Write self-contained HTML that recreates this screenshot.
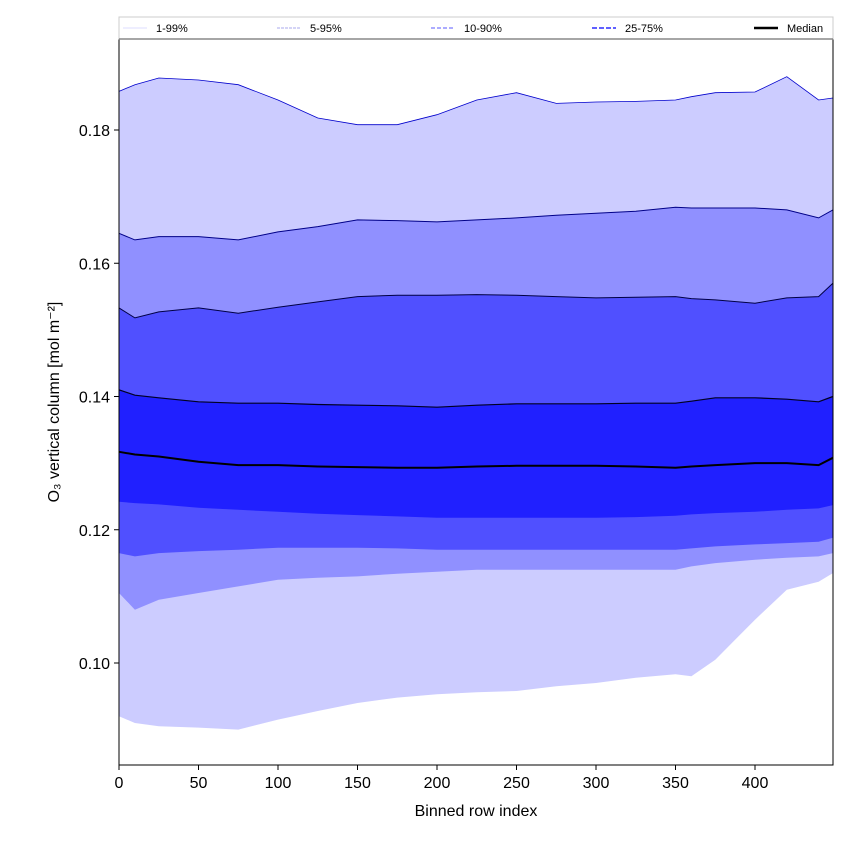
<!DOCTYPE html>
<html><head><meta charset="utf-8"><style>
body{margin:0;background:#fff;font-family:"Liberation Sans","DejaVu Sans",sans-serif}
</style></head><body>
<svg id="chart" width="850" height="850" xmlns="http://www.w3.org/2000/svg" font-family="Liberation Sans, DejaVu Sans, sans-serif"></svg>
<script>
const xs=[0,10,25,50,75,100,125,150,175,200,225,250,275,300,325,350,360,375,400,420,440,449];
const p99=[0.1858,0.1868,0.1878,0.1875,0.1868,0.1845,0.1818,0.1808,0.1808,0.1823,0.1845,0.1856,0.1840,0.1842,0.1843,0.1845,0.1850,0.1856,0.1857,0.1880,0.1845,0.1848];
const p95=[0.1645,0.1635,0.1640,0.1640,0.1635,0.1647,0.1655,0.1665,0.1664,0.1662,0.1665,0.1668,0.1672,0.1675,0.1678,0.1684,0.1683,0.1683,0.1683,0.1680,0.1668,0.1680];
const p90=[0.1533,0.1518,0.1527,0.1533,0.1525,0.1534,0.1542,0.1550,0.1552,0.1552,0.1553,0.1552,0.1550,0.1548,0.1549,0.1550,0.1547,0.1545,0.1540,0.1548,0.1550,0.1570];
const p75=[0.1410,0.1402,0.1398,0.1392,0.1390,0.1390,0.1388,0.1387,0.1386,0.1384,0.1387,0.1389,0.1389,0.1389,0.1390,0.1390,0.1393,0.1398,0.1398,0.1396,0.1392,0.1400];
const med=[0.1317,0.1313,0.1310,0.1302,0.1297,0.1297,0.1295,0.1294,0.1293,0.1293,0.1295,0.1296,0.1296,0.1296,0.1295,0.1293,0.1295,0.1297,0.1300,0.1300,0.1297,0.1308];
const p25=[0.1242,0.1240,0.1238,0.1233,0.1230,0.1227,0.1224,0.1222,0.1220,0.1218,0.1218,0.1218,0.1218,0.1218,0.1219,0.1221,0.1223,0.1225,0.1227,0.1230,0.1232,0.1237];
const p10=[0.1165,0.1160,0.1165,0.1168,0.1170,0.1173,0.1173,0.1173,0.1172,0.1170,0.1170,0.1170,0.1170,0.1170,0.1170,0.1170,0.1172,0.1175,0.1178,0.1180,0.1182,0.1188];
const p5=[0.1105,0.1080,0.1095,0.1105,0.1115,0.1125,0.1128,0.1130,0.1134,0.1137,0.1140,0.1140,0.1140,0.1140,0.1140,0.1140,0.1145,0.1150,0.1155,0.1158,0.1160,0.1165];
const p1=[0.0920,0.0910,0.0905,0.0903,0.0900,0.0915,0.0928,0.0940,0.0948,0.0953,0.0956,0.0958,0.0965,0.0970,0.0978,0.0983,0.0980,0.1005,0.1065,0.1110,0.1122,0.1135];
const xTicks=[0,50,100,150,200,250,300,350,400];
const yTicks=[0.10,0.12,0.14,0.16,0.18];
const yTickLabels=["0.10","0.12","0.14","0.16","0.18"];
const legendLabels=["1-99%","5-95%","10-90%","25-75%","Median"];

const svg=document.getElementById('chart');
const NS='http://www.w3.org/2000/svg';
const L=119,R=833,T=39,B=765;
const X=v=>L+(v-0)*(636/400);
const Y=v=>663-(v-0.10)*6662.5;
function mk(tag,attrs,parent){const e=document.createElementNS(NS,tag);for(const k in attrs)e.setAttribute(k,attrs[k]);(parent||svg).appendChild(e);return e;}
function pts(a){return xs.map((x,i)=>X(x).toFixed(1)+','+Y(a[i]).toFixed(1));}
function band(lo,hi,fill,name){
  const e=mk('polygon',{points:pts(hi).concat(pts(lo).reverse()).join(' '),fill:fill});
  
  
}
const clip=mk('clipPath',{id:'pc'});mk('rect',{x:L,y:T,width:R-L,height:B-T},clip);
band(p1,p99,'#ccccff','band-1-99');
band(p5,p95,'#9090ff','band-5-95');
band(p10,p90,'#5050ff','band-10-90');
band(p25,p75,'#2020ff','band-25-75');
function line(a,col,w,name){
  const e=mk('polyline',{points:pts(a).join(' '),fill:'none',stroke:col,'stroke-width':w});
  
  
}
line(p99,'#0000cc',0.8,'line-p99');
line(p95,'#000088',1,'line-p95');
line(p90,'#000044',1,'line-p90');
line(p75,'#000022',1.2,'line-p75');
line(med,'#000000',2,'median-line');
// axes frame
const fr=mk('rect',{x:L,y:T,width:R-L,height:B-T,fill:'none',stroke:'#000','stroke-width':1});


xTicks.forEach(t=>{
  mk('line',{x1:X(t),x2:X(t),y1:B,y2:B+5,stroke:'#000'});
  const tx=mk('text',{x:X(t),y:B+23,'text-anchor':'middle','font-size':16});tx.textContent=t;
  
  
});
yTicks.forEach((t,i)=>{
  mk('line',{x1:L-5,x2:L,y1:Y(t),y2:Y(t),stroke:'#000'});
  const tx=mk('text',{x:L-9,y:Y(t)+6,'text-anchor':'end','font-size':16});tx.textContent=yTickLabels[i];
  
  
});
const xl=mk('text',{x:(L+R)/2,y:816,'text-anchor':'middle','font-size':16});xl.textContent='Binned row index';


const yl=mk('text',{x:0,y:0,'text-anchor':'middle','font-size':16,transform:'translate(59,402) rotate(-90)'});yl.textContent='O₃ vertical column [mol m⁻²]';


// legend
const lg=mk('rect',{x:L,y:17,width:R-L,height:22,fill:'#fff',stroke:'#ccc','stroke-width':1});


mk('line',{x1:L,x2:R,y1:39,y2:39,stroke:'#888','stroke-width':1.5});
const lx=[123,277,431,592,754];
const lstyle=[['#ddddff',1,''],['#aaaaee',1,'3,1'],['#9090ff',1.5,'4,2'],['#6060ff',2,'5,2'],['#000',2.5,'']];
legendLabels.forEach((s,i)=>{
  const ln=mk('line',{x1:lx[i],x2:lx[i]+24,y1:28,y2:28,stroke:lstyle[i][0],'stroke-width':lstyle[i][1],'stroke-dasharray':lstyle[i][2]});
  
  
  const tx=mk('text',{x:lx[i]+33,y:32,'font-size':11});tx.textContent=s;
  
  
});
</script>
</body></html>
